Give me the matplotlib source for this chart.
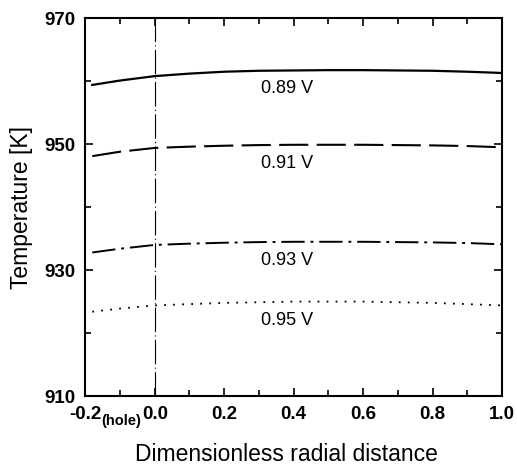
import matplotlib
matplotlib.use("Agg")
import matplotlib.pyplot as plt
from matplotlib.ticker import FixedLocator, MultipleLocator

plt.rcParams["font.family"] = ["Liberation Sans", "DejaVu Sans"]

# radial positions (dimensionless), hole edge at 0
r = [-0.18, -0.1, 0.0, 0.1, 0.2, 0.3, 0.4, 0.5, 0.6, 0.7, 0.8, 0.9, 1.0]
t_089 = [959.4, 960.1, 960.8, 961.2, 961.5, 961.65, 961.7, 961.75, 961.75, 961.7, 961.65, 961.5, 961.3]
t_091 = [948.1, 948.8, 949.4, 949.6, 949.75, 949.85, 949.9, 949.9, 949.9, 949.85, 949.8, 949.7, 949.5]
t_093 = [932.8, 933.4, 934.0, 934.2, 934.35, 934.45, 934.5, 934.5, 934.5, 934.45, 934.4, 934.3, 934.1]
t_095 = [923.4, 923.9, 924.4, 924.6, 924.8, 924.9, 925.0, 925.0, 925.0, 924.9, 924.8, 924.6, 924.4]
labels = ["0.89 V", "0.91 V", "0.93 V", "0.95 V"]
label_y = [958.9, 947.0, 931.6, 922.0]
y_major = [910, 930, 950, 970]
y_minor = [920, 940, 960]

fig = plt.figure(figsize=(5.17, 4.66), dpi=100)
ax = fig.add_axes([0.165, 0.150, 0.806, 0.811])

ax.plot(r, t_089, color="black", lw=1.6, linestyle="-")
ax.plot(r, t_091, color="black", lw=1.5, linestyle=(0, (14, 4)))
ax.plot(r, t_093, color="black", lw=1.4, linestyle=(0, (12, 3, 1.5, 3)))
ax.plot(r, t_095, color="black", lw=1.3, linestyle=(0, (1, 4)))
ax.axvline(0.0, color="black", lw=0.8, linestyle=(0, (22, 3, 1, 3)))

for lab, y in zip(labels, label_y):
    ax.text(0.38, y, lab, fontsize=13, ha="center", va="center")

ax.set_xlim(-0.2, 1.0)
ax.set_ylim(910, 970)
ax.xaxis.set_major_locator(MultipleLocator(0.2))
ax.xaxis.set_minor_locator(MultipleLocator(0.1))
ax.yaxis.set_major_locator(FixedLocator(y_major))
ax.yaxis.set_minor_locator(FixedLocator(y_minor))
ax.xaxis.set_major_formatter(plt.FuncFormatter(lambda v, p: f"{v:.1f}"))
ax.tick_params(which="both", direction="in", top=True, right=True, width=1.2)
ax.tick_params(which="major", length=6, labelsize=13.5, pad=7)
ax.tick_params(which="minor", length=4)
for lbl in ax.get_xticklabels() + ax.get_yticklabels():
    lbl.set_fontweight("bold")
for s in ax.spines.values():
    s.set_linewidth(1.5)

ax.text(-0.097, -0.047, "(hole)", transform=ax.get_xaxis_transform(),
        fontsize=10.5, fontweight="bold", ha="center", va="top")

ax.set_xlabel("Dimensionless radial distance", fontsize=16.5)
ax.xaxis.set_label_coords(0.483, -0.125, transform=ax.transAxes)
ax.xaxis.label.set_va("top")
ax.set_ylabel("Temperature [K]", fontsize=16.5, labelpad=8)

fig.savefig("out.png", dpi=100)
